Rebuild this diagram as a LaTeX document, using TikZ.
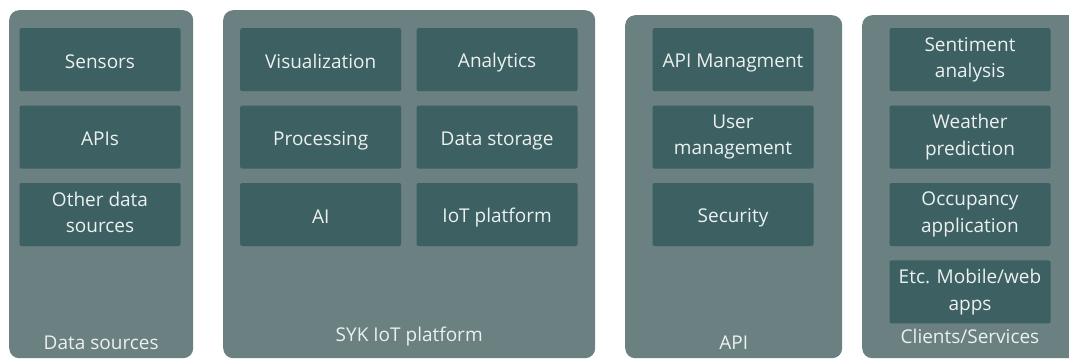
\documentclass[tikz,border=0pt]{standalone}
\usepackage{fontspec}
\setmainfont{Open Sans}
\usetikzlibrary{positioning}
\definecolor{panelgray}{RGB}{106,128,129}
\definecolor{tiledark}{RGB}{61,96,98}
\definecolor{tiletext}{RGB}{236,240,240}
\newcommand{\tilestrut}{\rule[-4pt]{0pt}{25pt}}
\tikzset{
  % Outer column (background panel)
  panel/.style={
    rectangle, rounded corners=10pt, fill=panelgray, draw=none,
    anchor=north west, inner sep=0pt
  },
  % Inner block
  tile/.style={
    rectangle, rounded corners=2pt, fill=tiledark, text=tiletext,
    minimum width=161pt, minimum height=63pt, inner sep=1pt,
    align=center, font=\fontsize{19}{26.5}\selectfont,
    execute at begin node=\tilestrut, execute at end node=\tilestrut
  },
  panellabel/.style={text=tiletext, font=\fontsize{19}{26.5}\selectfont, inner sep=0pt}
}

\begin{document}
\begin{tikzpicture}[x=1pt, y=-1pt, node distance=14pt and 15pt]
  \useasboundingbox (0,0) rectangle (1069,360);

  % Panels
  \node[panel, minimum width=184pt, minimum height=348pt] (srcpanel) at (9,10) {};
  \node[panel, minimum width=372pt, minimum height=348pt] (sykpanel) at (223,10) {};
  \node[panel, minimum width=217pt, minimum height=343pt] (apipanel) at (625,15) {};
  \node[panel, minimum width=220pt, minimum height=343pt] (clipanel) at (862,15) {};

  % Data sources
  \node[tile, anchor=north] (sensors) at (100,28) {Sensors};
  \node[tile, below=of sensors] (apis) {APIs};
  \node[tile, below=of apis] (othersrc) {Other data\\sources};
  \node[panellabel, above=9pt of srcpanel.south] (srclabel) {Data sources};

  % SYK IoT platform
  \node[tile, anchor=north west] (vis) at (240,28) {Visualization};
  \node[tile, right=of vis] (analytics) {Analytics};
  \node[tile, below=of vis] (processing) {Processing};
  \node[tile, below=of analytics] (storage) {Data storage};
  \node[tile, below=of processing] (ai) {AI};
  \node[tile, below=of storage] (iot) {IoT platform};
  \node[panellabel, above=12pt of sykpanel.south] (syklabel) {SYK IoT platform};

  % API
  \node[tile, anchor=north] (apimgmt) at (733,28) {API Managment};
  \node[tile, below=of apimgmt] (usermgmt) {User\\management};
  \node[tile, below=of usermgmt] (security) {Security};
  \node[panellabel, above=9pt of apipanel.south] (apilabel) {API};

  % Clients/Services
  \node[tile, anchor=north] (sentiment) at (970,28) {Sentiment\\analysis};
  \node[tile, below=of sentiment] (weather) {Weather\\prediction};
  \node[tile, below=of weather] (occupancy) {Occupancy\\application};
  \node[tile, below=of occupancy] (mobile) {Etc. Mobile/web\\apps};
  \node[panellabel, below=5pt of mobile] (clilabel) {Clients/Services};
\end{tikzpicture}
\end{document}
